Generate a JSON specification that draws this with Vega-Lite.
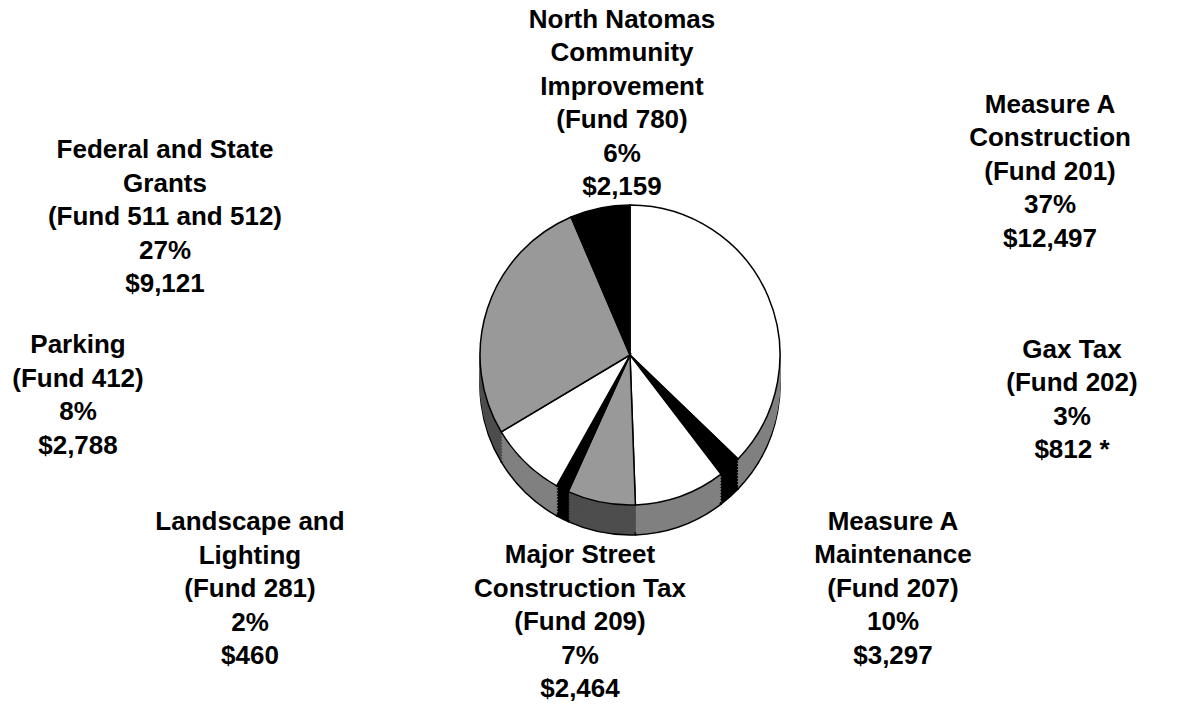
{
  "$schema": "https://vega.github.io/schema/vega-lite/v6.json",
  "width": 1112,
  "height": 690,
  "autosize": {"type": "none"},
  "padding": {"left": 74, "top": 10, "right": 0, "bottom": 4},
  "background": "white",
  "config": {"view": {"stroke": null}},
  "data": {
    "values": [
      {"i": 1, "fund": "Measure A Construction", "value": 12497, "label": "Measure A\nConstruction\n(Fund 201)\n37%\n$12,497"},
      {"i": 2, "fund": "Gas Tax", "value": 812, "label": "Gax Tax\n(Fund 202)\n3%\n$812 *"},
      {"i": 3, "fund": "Measure A Maintenance", "value": 3297, "label": "Measure A\nMaintenance\n(Fund 207)\n10%\n$3,297"},
      {"i": 4, "fund": "Major Street Construction Tax", "value": 2464, "label": "Major Street\nConstruction Tax\n(Fund 209)\n7%\n$2,464"},
      {"i": 5, "fund": "Landscape and Lighting", "value": 460, "label": "Landscape and\nLighting\n(Fund 281)\n2%\n$460"},
      {"i": 6, "fund": "Parking", "value": 2788, "label": "Parking\n(Fund 412)\n8%\n$2,788"},
      {"i": 7, "fund": "Federal and State Grants", "value": 9121, "label": "Federal and State\nGrants\n(Fund 511 and 512)\n27%\n$9,121"},
      {"i": 8, "fund": "North Natomas Community Improvement", "value": 2159, "label": "North Natomas\nCommunity\nImprovement\n(Fund 780)\n6%\n$2,159"}
    ]
  },
  "layer": [
    {
      "encoding": {
        "theta": {"field": "value", "type": "quantitative", "stack": true},
        "order": {"field": "i", "type": "quantitative"},
        "fill": {"field": "fund", "type": "nominal", "legend": null,
          "scale": {"domain": ["Measure A Construction", "Gas Tax", "Measure A Maintenance", "Major Street Construction Tax", "Landscape and Lighting", "Parking", "Federal and State Grants", "North Natomas Community Improvement"],
                    "range": ["#808080", "#000000", "#808080", "#4d4d4d", "#000000", "#808080", "#4d4d4d", "#000000"]}},
        "stroke": {"field": "fund", "type": "nominal", "legend": null,
          "scale": {"domain": ["Measure A Construction", "Gas Tax", "Measure A Maintenance", "Major Street Construction Tax", "Landscape and Lighting", "Parking", "Federal and State Grants", "North Natomas Community Improvement"],
                    "range": ["#808080", "#000000", "#808080", "#4d4d4d", "#000000", "#808080", "#4d4d4d", "#000000"]}}
      },
      "layer": [
        {"mark": {"type": "arc", "outerRadius": 150, "yOffset": 30, "strokeWidth": 1.5}, "encoding": {"stroke": {"value": "#000000"}}},
        {"mark": {"type": "arc", "outerRadius": 150, "yOffset": 27, "strokeWidth": 1}},
        {"mark": {"type": "arc", "outerRadius": 150, "yOffset": 24, "strokeWidth": 1}},
        {"mark": {"type": "arc", "outerRadius": 150, "yOffset": 21, "strokeWidth": 1}},
        {"mark": {"type": "arc", "outerRadius": 150, "yOffset": 18, "strokeWidth": 1}},
        {"mark": {"type": "arc", "outerRadius": 150, "yOffset": 15, "strokeWidth": 1}},
        {"mark": {"type": "arc", "outerRadius": 150, "yOffset": 12, "strokeWidth": 1}},
        {"mark": {"type": "arc", "outerRadius": 150, "yOffset": 9, "strokeWidth": 1}},
        {"mark": {"type": "arc", "outerRadius": 150, "yOffset": 6, "strokeWidth": 1}},
        {"mark": {"type": "arc", "outerRadius": 150, "yOffset": 3, "strokeWidth": 1}}
      ]
    },
    {
      "mark": {"type": "arc", "outerRadius": 150, "stroke": "#000000", "strokeWidth": 1.5},
      "encoding": {
        "theta": {"field": "value", "type": "quantitative", "stack": true},
        "order": {"field": "i", "type": "quantitative"},
        "fill": {"field": "fund", "type": "nominal", "legend": null,
          "scale": {"domain": ["Measure A Construction", "Gas Tax", "Measure A Maintenance", "Major Street Construction Tax", "Landscape and Lighting", "Parking", "Federal and State Grants", "North Natomas Community Improvement"],
                    "range": ["#ffffff", "#000000", "#ffffff", "#999999", "#000000", "#ffffff", "#999999", "#000000"]}}
      }
    },
    {
      "mark": {"type": "text", "font": "Liberation Sans", "fontWeight": "bold", "fontSize": 26, "lineHeight": 33.5, "lineBreak": "\n", "align": "center", "baseline": "middle", "color": "#000000"},
      "encoding": {
        "theta": {"field": "value", "type": "quantitative", "stack": true,
          "scale": {"domain": [6248.5, 12903, 14957.5, 17838, 19300, 20924, 26878.5, 32518.5],
                    "range": [1.0339, 1.5594, 2.1365, 3.3866, 4.2983, 4.7305, 5.1276, 6.2593]}},
        "radius": {"field": "value", "type": "quantitative",
          "scale": {"type": "linear", "zero": false, "nice": false,
                    "domain": [460, 812, 2159, 2464, 2788, 3297, 9121, 12497],
                    "range": [415.1, 442.0, 335.1, 206.2, 552.1, 311.5, 508.2, 488.8]}},
        "order": {"field": "i", "type": "quantitative"},
        "text": {"field": "label", "type": "nominal"}
      }
    }
  ],
  "resolve": {"scale": {"theta": "independent", "radius": "independent", "fill": "independent", "stroke": "independent"}}
}
